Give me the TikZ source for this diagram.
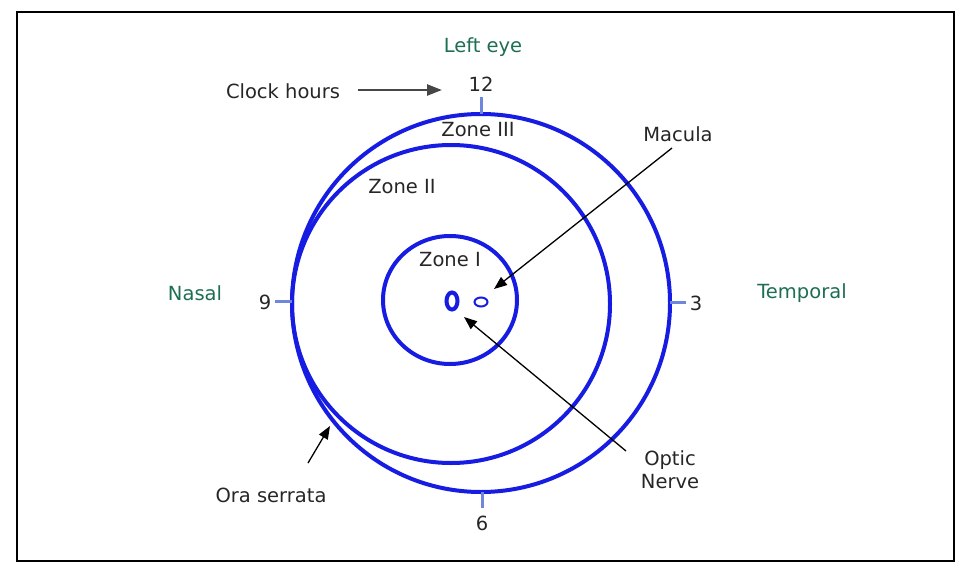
\documentclass[tikz,border=0pt]{standalone}
\usepackage{fontspec}
\setmainfont{DejaVu Sans}
\usetikzlibrary{arrows.meta}
\definecolor{ringblue}{RGB}{22,28,225}
\definecolor{tickblue}{RGB}{110,135,220}
\definecolor{labgreen}{RGB}{30,110,80}
\definecolor{shaftgray}{RGB}{70,70,70}
\tikzset{
  ring/.style={draw=ringblue, line width=4pt},
  tickline/.style={draw=tickblue, line width=3pt},
  lbl/.style={font=\fontsize{19.5}{23}\selectfont, text=black!85, inner sep=1pt},
  glbl/.style={font=\fontsize{19.5}{23}\selectfont, text=labgreen, inner sep=1pt},
  pointer/.style={draw=black, line width=1.3pt, -{Triangle[length=13pt,width=10pt]}},
}
\begin{document}
\begin{tikzpicture}[x=1pt,y=-1pt]
\useasboundingbox (0,0) rectangle (956,565);
\draw[line width=2pt] (17,12) rectangle (954,561);
% rings
\draw[ring] (481,303) circle (189);
\draw[ring] (451,304) circle (159);
\draw[ring] (450,300) ellipse (67 and 64);
\draw[draw=ringblue, line width=4pt] (452,301) ellipse (5.5 and 8.5);
\draw[draw=ringblue, line width=2pt] (481,302) ellipse (6.5 and 4.5);
% ticks
\coordinate (t12a) at (481,97); \coordinate (t12b) at (481,114);
\coordinate (t6a) at (482,492); \coordinate (t6b) at (482,508);
\coordinate (t9a) at (275,301); \coordinate (t9b) at (292,301);
\coordinate (t3a) at (670,302); \coordinate (t3b) at (686,302);
\draw[tickline] (t12a) -- (t12b);
\draw[tickline] (t6a) -- (t6b);
\draw[tickline] (t9a) -- (t9b);
\draw[tickline] (t3a) -- (t3b);
% numbers
\node[lbl] (n12) at (481,84) {12};
\node[lbl] (n6) at (482,523) {6};
\node[lbl] (n9) at (265,302) {9};
\node[lbl] (n3) at (696,303) {3};
% green labels
\node[glbl] (left) at (483,47) {Left eye};
\node[glbl] (nasal) at (195,293) {Nasal};
\node[glbl] (temp) at (802,293) {Temporal};
% zone labels
\node[lbl] (z3) at (478,130) {Zone III};
\node[lbl] (z2) at (402,187) {Zone II};
\node[lbl] (z1) at (450,260) {Zone I};
% other labels
\node[lbl] (clock) at (283,91) {Clock hours};
\node[lbl] (macula) at (678,134) {Macula};
\node[lbl, align=center] (optic) at (670,470) {Optic\\Nerve};
\node[lbl] (ora) at (271,495) {Ora serrata};
% pointers
\coordinate (clockstart) at (358,90);
\coordinate (clockend) at (442,90);
\coordinate (macstart) at (672,148);
\coordinate (macend) at (494,289);
\coordinate (optstart) at (626,451);
\coordinate (optend) at (464,317);
\coordinate (orastart) at (308,463);
\coordinate (oraend) at (330,426);
\draw[draw=shaftgray, line width=2.5pt, -{Triangle[length=15pt,width=11pt]}] (clockstart) -- (clockend);
\draw[pointer] (macstart) -- (macend);
\draw[pointer] (optstart) -- (optend);
\draw[pointer] (orastart) -- (oraend);
\end{tikzpicture}
\end{document}
